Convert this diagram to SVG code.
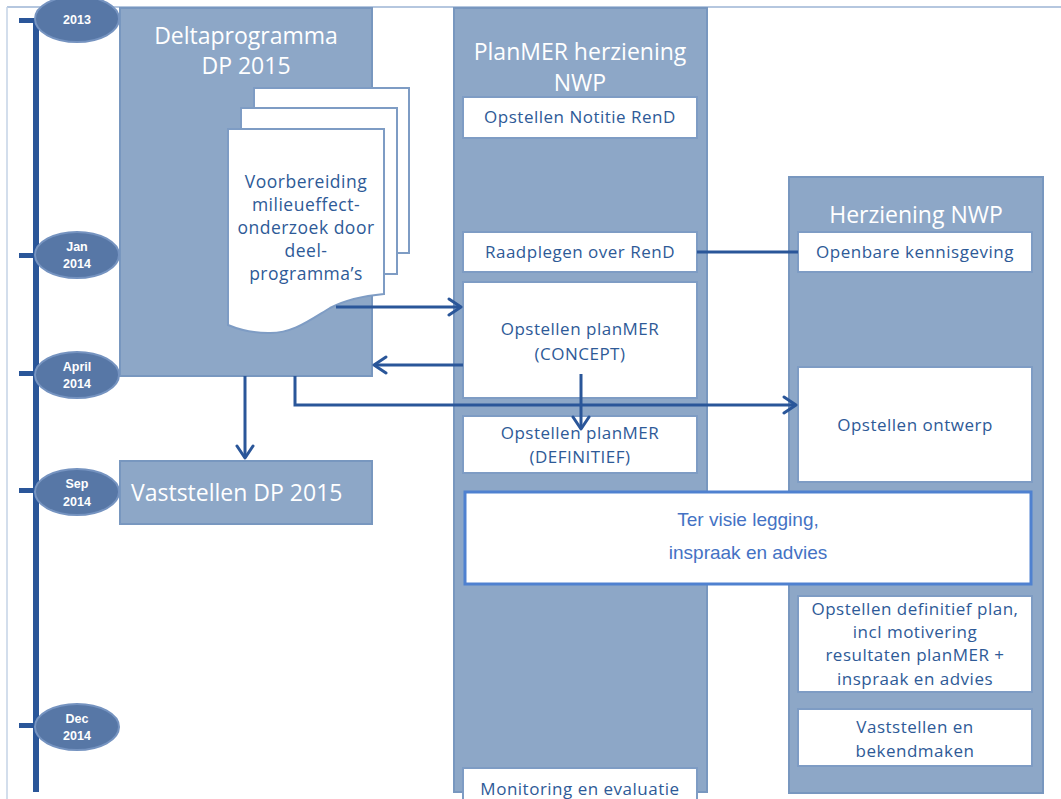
<svg xmlns="http://www.w3.org/2000/svg" width="1061" height="799" viewBox="0 0 1061 799">
<style>
.col{fill:#8DA7C7;stroke:#7897BF;stroke-width:2}
.box{fill:#ffffff;stroke:#7E9CC4;stroke-width:2}
.t{font-family:"Open Sans",Lato,"Liberation Sans",sans-serif;fill:#2E5A97;font-size:17px;letter-spacing:0.5px;text-anchor:middle}
.d{font-size:17.5px;letter-spacing:0.5px}
.title{font-family:"Open Sans",Lato,"Liberation Sans",sans-serif;fill:#ffffff;font-size:23px;text-anchor:middle}
.ell{fill:#5777A6;stroke:#7593C0;stroke-width:2}
.et{font-family:"Liberation Sans",Arial,sans-serif;font-weight:bold;fill:#ffffff;font-size:12.5px;text-anchor:middle}
.con{fill:none;stroke:#2A5699;stroke-width:3}
.page{fill:#ffffff;stroke:#7E9CC4;stroke-width:2}
.tv{font-family:"Liberation Sans",Arial,sans-serif;font-size:19px;fill:#4472C4;text-anchor:middle}
</style>
<defs>
<marker id="arr" markerUnits="userSpaceOnUse" viewBox="0 0 16 20" markerWidth="16" markerHeight="20" refX="14" refY="10" orient="auto">
<path d="M2,2 L14,10 L2,18" fill="none" stroke="#2A5699" stroke-width="3" stroke-linecap="round" stroke-linejoin="round"/>
</marker>
</defs>
<rect x="0" y="0" width="1061" height="799" fill="#ffffff"/>
<line x1="7" y1="7" x2="1061" y2="7" stroke="#9DB4D5" stroke-width="1.5"/>
<line x1="7" y1="7" x2="7" y2="799" stroke="#C5D3E6" stroke-width="1.5"/>

<g id="timeline">
<rect x="33" y="18" width="6" height="774" fill="#2A5699"/>
<rect x="19" y="18" width="18" height="5" fill="#2A5699"/>
<rect x="19" y="253" width="18" height="5" fill="#2A5699"/>
<rect x="19" y="371" width="18" height="5" fill="#2A5699"/>
<rect x="19" y="488" width="18" height="5" fill="#2A5699"/>
<rect x="19" y="723" width="18" height="5" fill="#2A5699"/>
</g>

<g id="delta">
<rect class="col" x="120" y="8" width="252" height="368"/>
<text class="title" x="246" y="44">Deltaprogramma</text>
<text class="title" x="246" y="74">DP 2015</text>
</g>

<g id="doc">
<rect class="page" x="254" y="88" width="155" height="165"/>
<rect class="page" x="241" y="108" width="156" height="166"/>
<path class="page" d="M228,129 H384 V294 C362,296 345,300 330,308 C310,320 292,334 268,333 C252,333 240,330 228,325 Z"/>
<text class="t d" x="306" y="188">Voorbereiding</text>
<text class="t d" x="306" y="211">milieueffect-</text>
<text class="t d" x="306" y="234">onderzoek door</text>
<text class="t d" x="306" y="257">deel-</text>
<text class="t d" x="306" y="280">programma’s</text>
</g>

<g id="vaststellen-dp">
<rect class="col" x="120" y="461" width="252" height="63"/>
<text class="title" x="131" y="501" style="text-anchor:start">Vaststellen DP 2015</text>
</g>

<g id="planmer">
<rect class="col" x="454" y="8" width="253" height="784"/>
<text class="title" x="580" y="60">PlanMER herziening</text>
<text class="title" x="580" y="91">NWP</text>
</g>

<g id="herziening">
<rect class="col" x="789" y="177" width="254" height="616"/>
<text class="title" x="916" y="223">Herziening NWP</text>
</g>

<g id="notitie">
<rect class="box" x="463" y="97" width="234" height="41"/>
<text class="t" x="580" y="123">Opstellen Notitie RenD</text>
</g>
<g id="raadplegen">
<rect class="box" x="463" y="232" width="234" height="40"/>
<text class="t" x="580" y="258">Raadplegen over RenD</text>
</g>
<g id="concept">
<rect class="box" x="463" y="282" width="234" height="116"/>
<text class="t" x="580" y="335">Opstellen planMER</text>
<text class="t" x="580" y="360">(CONCEPT)</text>
</g>
<g id="definitief">
<rect class="box" x="463" y="416" width="234" height="57"/>
<text class="t" x="580" y="439">Opstellen planMER</text>
<text class="t" x="580" y="463">(DEFINITIEF)</text>
</g>
<g id="monitoring">
<rect class="box" x="463" y="768" width="234" height="40"/>
<text class="t" x="580" y="795">Monitoring en evaluatie</text>
</g>

<g id="openbare">
<rect class="box" x="798" y="232" width="234" height="40"/>
<text class="t" x="915" y="258">Openbare kennisgeving</text>
</g>
<g id="ontwerp">
<rect class="box" x="798" y="367" width="234" height="115"/>
<text class="t" x="915" y="431">Opstellen ontwerp</text>
</g>
<g id="definitief-plan">
<rect class="box" x="798" y="596" width="234" height="96"/>
<text class="t" x="915" y="615">Opstellen definitief plan,</text>
<text class="t" x="915" y="638">incl motivering</text>
<text class="t" x="915" y="661">resultaten planMER +</text>
<text class="t" x="915" y="685">inspraak en advies</text>
</g>
<g id="bekendmaken">
<rect class="box" x="798" y="709" width="234" height="57"/>
<text class="t" x="915" y="733">Vaststellen en</text>
<text class="t" x="915" y="757">bekendmaken</text>
</g>

<g id="ter-visie">
<rect x="465" y="492" width="566" height="92" fill="#ffffff" stroke="#4F81D0" stroke-width="3"/>
<text class="tv" x="748" y="526">Ter visie legging,</text>
<text class="tv" x="748" y="559">inspraak en advies</text>
</g>

<g id="years">
<g id="y2013"><ellipse class="ell" cx="77" cy="19" rx="42" ry="23"/><text class="et" x="77" y="24">2013</text></g>
<g id="y2014jan"><ellipse class="ell" cx="77" cy="255" rx="42" ry="23"/><text class="et" x="77" y="251">Jan</text><text class="et" x="77" y="268">2014</text></g>
<g id="y2014apr"><ellipse class="ell" cx="77" cy="375" rx="42" ry="23"/><text class="et" x="77" y="371">April</text><text class="et" x="77" y="388">2014</text></g>
<g id="y2014sep"><ellipse class="ell" cx="77" cy="492" rx="42" ry="23"/><text class="et" x="77" y="488">Sep</text><text class="et" x="77" y="506">2014</text></g>
<g id="y2014dec"><ellipse class="ell" cx="77" cy="727" rx="42" ry="23"/><text class="et" x="77" y="723">Dec</text><text class="et" x="77" y="740">2014</text></g>
</g>

<g id="connectors">
<path class="con" d="M336,307 H461" marker-end="url(#arr)"/>
<path class="con" d="M463,365 H374" marker-end="url(#arr)"/>
<path class="con" d="M245,376 V458" marker-end="url(#arr)"/>
<path class="con" d="M295,376 V405 H796" marker-end="url(#arr)"/>
<path class="con" d="M581,374 V429" marker-end="url(#arr)"/>
<path class="con" d="M697,252 H798"/>
</g>
</svg>
